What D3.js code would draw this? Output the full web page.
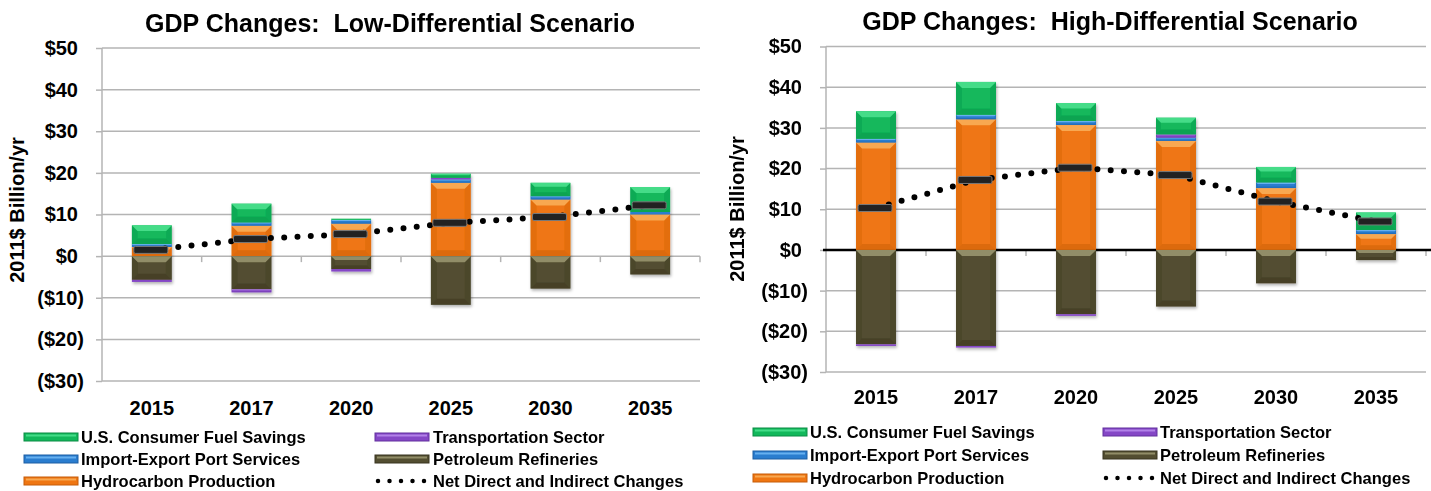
<!DOCTYPE html>
<html lang="en">
<head>
<meta charset="utf-8">
<title>GDP Changes</title>
<script src="https://cdn.jsdelivr.net/npm/d3@7"></script>
<style>
	body{margin:0;background:#fff}
	text{font-family:"Liberation Sans",Arial,sans-serif;font-weight:bold;fill:#000;white-space:pre}
</style>
</head>
<body>
<script>

//Categories and ticks
var years = ["2015", "2017", "2020", "2025", "2030", "2035"];
var yTicks = [-30, -20, -10, 0, 10, 20, 30, 40, 50];

//Series (segment values, $ billion/yr) - Low-Differential Scenario
var lowHydro      = [2.2, 7.3, 7.8, 17.6, 13.6, 10.0];
var lowPort       = [0.7, 0.8, 0.9, 0.8, 0.8, 0.6];
var lowTransport  = [-0.5, -0.7, -0.6, 0.4, 0, 0];
var lowRefineries = [-5.7, -8.0, -3.1, -11.7, -7.8, -4.4];
var lowFuel       = [4.5, 4.5, 0.3, 1.0, 3.2, 6.0];
var lowNet        = [1.5, 4.1, 5.3, 8.0, 9.4, 12.2];

//High-Differential Scenario
var highHydro      = [26.4, 32.1, 30.7, 26.8, 15.2, 3.9];
var highPort       = [0.9, 1.1, 1.0, 0.8, 1.4, 1.0];
var highTransport  = [-0.4, -0.4, -0.4, 0.8, 0, 0];
var highRefineries = [-23.2, -23.6, -15.8, -13.9, -8.2, -2.5];
var highFuel       = [6.8, 8.1, 4.4, 4.1, 3.8, 4.3];
var highNet        = [10.3, 17.2, 20.2, 18.4, 11.9, 7.0];

//Legend
var legendCol1 = [["fuel", "U.S. Consumer Fuel Savings"], ["port", "Import-Export Port Services"], ["hydro", "Hydrocarbon Production"]];
var legendCol2 = [["transport", "Transportation Sector"], ["refineries", "Petroleum Refineries"], ["net", "Net Direct and Indirect Changes"]];

//stack order: positives hydro, port, transport, fuel / negatives refineries, transport
var keys = ["hydro", "port", "refineries", "transport", "fuel"];

var base  = {hydro: "#ef7612", port: "#2a7dcf", transport: "#8547c6", fuel: "#12b85b", refineries: "#534e31"};
var light = {hydro: "#f8a851", port: "#66b0f0", transport: "#b282e8", fuel: "#44dc88", refineries: "#918d68"};
var dark  = {hydro: "#c65d08", port: "#1c5ea3", transport: "#62309e", fuel: "#0a8c44", refineries: "#383420"};

var w = 1431, h = 491;

var svg = d3.select("body")
			.append("svg")
			.attr("width", w)
			.attr("height", h);

var filter = svg.append("defs").append("filter")
	.attr("id", "shadow").attr("x", "-20%").attr("y", "-20%").attr("width", "140%").attr("height", "140%");
filter.append("feDropShadow")
	.attr("dx", 1).attr("dy", 2).attr("stdDeviation", 1.5)
	.attr("flood-color", "#000").attr("flood-opacity", 0.3);

function makeRows(hydro, port, transport, refineries, fuel) {
	return years.map(function(y, i) {
		return {year: y, hydro: hydro[i], port: port[i], transport: transport[i], refineries: refineries[i], fuel: fuel[i]};
	});
}

function bevelSeg(g, x, y, bw, bh, key) {
	g.append("rect")
		.attr("x", x).attr("y", y)
		.attr("width", bw).attr("height", bh)
		.attr("fill", base[key]);
	var b = Math.min(6, bh * 0.3);
	if (b < 0.8) return;
	//sides
	g.append("polygon")
		.attr("points", [[x, y], [x + b, y + b], [x + b, y + bh - b], [x, y + bh]].join(" "))
		.attr("fill", dark[key]).attr("opacity", 0.3);
	g.append("polygon")
		.attr("points", [[x + bw, y], [x + bw - b, y + b], [x + bw - b, y + bh - b], [x + bw, y + bh]].join(" "))
		.attr("fill", dark[key]).attr("opacity", 0.3);
	//top highlight
	g.append("polygon")
		.attr("points", [[x, y], [x + bw, y], [x + bw - b, y + b], [x + b, y + b]].join(" "))
		.attr("fill", light[key]);
	//bottom shade
	g.append("polygon")
		.attr("points", [[x, y + bh], [x + bw, y + bh], [x + bw - b, y + bh - b], [x + b, y + bh - b]].join(" "))
		.attr("fill", dark[key]).attr("opacity", 0.45);
}

function drawPanel(p, rows, net) {

	var g = svg.append("g");

	var xScale = d3.scaleBand()
		.domain(years)
		.range([p.x0, p.x1]);

	var yScale = d3.scaleLinear()
		.domain([-30, 50])
		.range([p.yBottom, p.yTop]);

	//Gridlines
	g.selectAll("line.grid")
		.data(yTicks.filter(function(d) { return !(p.zeroBlack && d === 0); }))
		.enter()
		.append("line")
		.attr("x1", p.x0).attr("x2", p.x1)
		.attr("y1", function(d) { return yScale(d); })
		.attr("y2", function(d) { return yScale(d); })
		.attr("stroke", "#b4b4b4").attr("stroke-width", 1.5);

	//Y axis
	var yAxis = d3.axisLeft(yScale)
		.tickValues(yTicks)
		.tickSize(6)
		.tickPadding(12)
		.tickFormat(function(d) { return d < 0 ? "($" + (-d) + ")" : "$" + d; });

	var ya = g.append("g")
		.attr("transform", "translate(" + p.x0 + ",0)")
		.call(yAxis);
	ya.select(".domain").attr("stroke", "#b4b4b4").attr("stroke-width", 1.5)
		.attr("d", "M0," + p.yTop + "V" + p.yBottom);
	ya.selectAll(".tick line").attr("stroke", "#b4b4b4").attr("stroke-width", 1.5);
	ya.selectAll(".tick text")
		.attr("font-size", "20px")
		.attr("font-family", null)
		.attr("dx", function(d) { return d < 0 ? 0 : -6; });

	//X axis ticks at category boundaries
	g.selectAll("line.xtick")
		.data(years)
		.enter()
		.append("line")
		.attr("x1", function(d) { return xScale(d) + xScale.bandwidth(); })
		.attr("x2", function(d) { return xScale(d) + xScale.bandwidth(); })
		.attr("y1", yScale(0)).attr("y2", yScale(0) + 6)
		.attr("stroke", "#b4b4b4").attr("stroke-width", 1.5);

	//X labels
	var xAxis = d3.axisBottom(xScale).tickSize(0).tickPadding(0);
	var xa = g.append("g")
		.attr("transform", "translate(0," + p.xlabY + ")")
		.call(xAxis);
	xa.select(".domain").remove();
	xa.selectAll(".tick text")
		.attr("font-size", "20px")
		.attr("font-family", null)
		.attr("dy", 0)
		.attr("y", 0);

	//Zero line
	if (p.zeroBlack) {
		g.append("line")
			.attr("x1", p.x0 - 3).attr("x2", w)
			.attr("y1", yScale(0)).attr("y2", yScale(0))
			.attr("stroke", "#000").attr("stroke-width", 2.5);
	}

	//Stacked bars
	var stack = d3.stack()
		.keys(keys)
		.offset(d3.stackOffsetDiverging);
	var series = stack(rows);

	var bw = xScale.bandwidth() * 0.4;
	var bars = g.append("g").attr("filter", "url(#shadow)");

	series.forEach(function(s) {
		s.forEach(function(d) {
			if (d[1] === d[0]) return;
			var x = xScale(d.data.year) + (xScale.bandwidth() - bw) / 2;
			var top = yScale(Math.max(d[0], d[1]));
			var bot = yScale(Math.min(d[0], d[1]));
			bevelSeg(bars, x, top, bw, bot - top, s.key);
		});
	});

	//Net dotted line
	var line = d3.line()
		.x(function(d, i) { return xScale(years[i]) + xScale.bandwidth() / 2; })
		.y(function(d) { return yScale(d); });

	g.append("path")
		.datum(net)
		.attr("d", line)
		.attr("fill", "none")
		.attr("stroke", "#000")
		.attr("stroke-width", 6)
		.attr("stroke-linecap", "round")
		.attr("stroke-dasharray", "0,13.3");

	//Net markers
	g.selectAll("rect.net")
		.data(net)
		.enter()
		.append("rect")
		.attr("x", function(d, i) { return xScale(years[i]) + xScale.bandwidth() / 2 - 18; })
		.attr("y", function(d) { return yScale(d) - 3.5; })
		.attr("width", 34)
		.attr("height", 7)
		.attr("rx", 1.5)
		.attr("fill", "#222")
		.attr("stroke", "#7a7a7a")
		.attr("stroke-width", 1);

	//Title
	g.append("text")
		.attr("x", p.titleX)
		.attr("y", p.titleY)
		.attr("text-anchor", "middle")
		.attr("font-size", "25px")
		.text(p.title);

	//Y title
	g.append("text")
		.attr("transform", "translate(" + p.ylabX + "," + p.ylabY + ") rotate(-90)")
		.attr("text-anchor", "middle")
		.attr("dy", "0.35em")
		.attr("font-size", "20px")
		.text("2011$ Billion/yr");

	//Legend
	var cols = [legendCol1, legendCol2];
	cols.forEach(function(col, c) {
		col.forEach(function(item, r) {
			var ly = p.legY[r];
			var lx = p.legX[c];
			if (item[0] === "net") {
				g.append("line")
					.attr("x1", lx + 3).attr("x2", lx + 50)
					.attr("y1", ly).attr("y2", ly)
					.attr("stroke", "#000").attr("stroke-width", 4.5)
					.attr("stroke-linecap", "round")
					.attr("stroke-dasharray", "0,11.5");
			} else {
				g.append("rect")
					.attr("x", lx).attr("y", ly - 4)
					.attr("width", 54).attr("height", 8)
					.attr("fill", base[item[0]])
					.attr("stroke", dark[item[0]]).attr("stroke-width", 1);
				g.append("rect")
					.attr("x", lx + 2).attr("y", ly - 2.5)
					.attr("width", 50).attr("height", 2)
					.attr("fill", light[item[0]]);
			}
			g.append("text")
				.attr("x", p.legTextX[c])
				.attr("y", ly)
				.attr("dy", "0.35em")
				.attr("font-size", "16.5px")
				.text(item[1]);
		});
	});
}

drawPanel({
	title: "GDP Changes:  Low-Differential Scenario", titleX: 390, titleY: 32,
	x0: 102, x1: 700, yTop: 48, yBottom: 381,
	ylabX: 17, ylabY: 210, xlabY: 415, zeroBlack: false,
	legX: [24, 375], legTextX: [81, 433], legY: [437, 459, 481]
}, makeRows(lowHydro, lowPort, lowTransport, lowRefineries, lowFuel), lowNet);

drawPanel({
	title: "GDP Changes:  High-Differential Scenario", titleX: 1110, titleY: 30,
	x0: 826, x1: 1426, yTop: 46.5, yBottom: 372,
	ylabX: 737, ylabY: 209, xlabY: 404, zeroBlack: true,
	legX: [753, 1103], legTextX: [810, 1160], legY: [432, 455, 478]
}, makeRows(highHydro, highPort, highTransport, highRefineries, highFuel), highNet);

</script>
</body>
</html>
